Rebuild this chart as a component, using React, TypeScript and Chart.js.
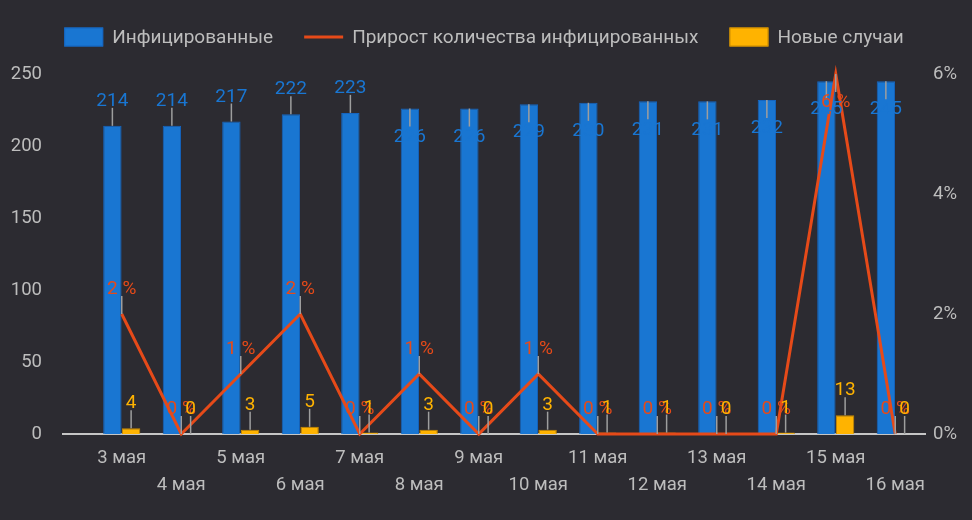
import React, { useEffect, useRef } from 'react';
import { Chart, registerables } from 'chart.js';

Chart.register(...registerables);

const categories = ['3 мая', '4 мая', '5 мая', '6 мая', '7 мая', '8 мая', '9 мая', '10 мая', '11 мая', '12 мая', '13 мая', '14 мая', '15 мая', '16 мая'];
const infected = [214, 214, 217, 222, 223, 226, 226, 229, 230, 231, 231, 232, 245, 245];
const growthPct = [2, 0, 1, 2, 0, 1, 0, 1, 0, 0, 0, 0, 6, 0];
const newCases = [4, 0, 3, 5, 1, 3, 0, 3, 1, 1, 0, 1, 13, 0];
const seriesNames = ['Инфицированные', 'Прирост количества инфицированных', 'Новые случаи'];
const leftAxisMax = 250;
const leftAxisStep = 50;
const rightAxisMax = 6;
const rightAxisStep = 2;

const BG = '#2c2b31';
const BLUE = '#1976d2';
const BLUE_BORDER = '#1565c0';
const ORANGE = '#e64a19';
const YELLOW = '#ffb300';
const YELLOW_BORDER = '#c98a00';
const TEXT = '#bdbdbd';
const STEM = '#9e9e9e';
const AXIS = '#c6c6c6';
const FONT = 'Roboto';

const W = 972;
const H = 520;

const bgPlugin = {
  id: 'bg',
  beforeDraw(chart: any) {
    const ctx = chart.ctx;
    ctx.save();
    ctx.fillStyle = BG;
    ctx.fillRect(0, 0, chart.width, chart.height);
    ctx.restore();
  },
};

const baselinePlugin = {
  id: 'baseline',
  beforeDatasetsDraw(chart: any) {
    const ctx = chart.ctx;
    const y = chart.scales.y.getPixelForValue(0);
    ctx.save();
    ctx.strokeStyle = AXIS;
    ctx.lineWidth = 2;
    ctx.beginPath();
    ctx.moveTo(62, y);
    ctx.lineTo(chart.chartArea.right + 1, y);
    ctx.stroke();
    ctx.restore();
  },
};

const legendPlugin = {
  id: 'customLegend',
  afterDraw(chart: any) {
    const ctx = chart.ctx;
    const ds = chart.data.datasets;
    ctx.save();
    ctx.font = `19px ${FONT}`;
    const boxW = 39;
    const boxH = 19;
    const textGap = 9;
    const itemGap = 31;
    const widths = ds.map((d: any) => boxW + textGap + ctx.measureText(d.label).width);
    const total = widths.reduce((a: number, b: number) => a + b, 0) + itemGap * (ds.length - 1);
    let x = (chart.width - total) / 2 - 2;
    const cy = 37;
    ds.forEach((d: any, i: number) => {
      if (d.type === 'line') {
        ctx.strokeStyle = d.borderColor;
        ctx.lineWidth = 3;
        ctx.beginPath();
        ctx.moveTo(x, cy);
        ctx.lineTo(x + boxW, cy);
        ctx.stroke();
      } else {
        ctx.fillStyle = d.backgroundColor;
        ctx.fillRect(x, cy - boxH / 2, boxW, boxH);
        ctx.strokeStyle = d.borderColor;
        ctx.lineWidth = 1;
        ctx.strokeRect(x + 0.5, cy - boxH / 2 + 0.5, boxW - 1, boxH - 1);
      }
      ctx.fillStyle = TEXT;
      ctx.textAlign = 'left';
      ctx.textBaseline = 'middle';
      ctx.fillText(d.label, x + boxW + textGap, cy + 1);
      x += widths[i] + itemGap;
    });
    ctx.restore();
  },
};

const annotationPlugin = {
  id: 'annotations',
  afterDatasetsDraw(chart: any) {
    const ctx = chart.ctx;
    const area = chart.chartArea;
    const stemLen = 18;
    ctx.save();
    ctx.font = `19px ${FONT}`;
    ctx.textAlign = 'center';
    chart.data.datasets.forEach((d: any, di: number) => {
      const meta = chart.getDatasetMeta(di);
      const isLine = d.type === 'line';
      meta.data.forEach((el: any, i: number) => {
        const v = d.data[i];
        const text = isLine ? `${v} %` : `${v}`;
        const x = el.x;
        const y = el.y;
        const textBottom = y - stemLen - 2;
        const below = textBottom - 15 < area.top + 2;
        ctx.strokeStyle = STEM;
        ctx.lineWidth = 1.5;
        ctx.beginPath();
        if (below) {
          ctx.moveTo(x, y);
          ctx.lineTo(x, y + stemLen);
        } else {
          ctx.moveTo(x, y);
          ctx.lineTo(x, y - stemLen);
        }
        ctx.stroke();
        ctx.fillStyle = d.labelColor;
        if (below) {
          ctx.textBaseline = 'top';
          ctx.fillText(text, x, y + stemLen + 1);
        } else {
          ctx.textBaseline = 'alphabetic';
          ctx.fillText(text, x, textBottom);
        }
      });
    });
    ctx.restore();
  },
};

export default function App() {
  const ref = useRef<HTMLCanvasElement>(null);

  useEffect(() => {
    document.body.style.margin = '0';
    document.body.style.background = BG;
    const canvas = ref.current;
    if (!canvas) return;
    const chart = new Chart(canvas, {
      type: 'bar',
      data: {
        labels: categories,
        datasets: [
          {
            type: 'bar',
            label: seriesNames[0],
            data: infected,
            backgroundColor: BLUE,
            borderColor: BLUE_BORDER,
            borderWidth: 1,
            yAxisID: 'y',
            order: 1,
            categoryPercentage: 0.63,
            barPercentage: 0.98,
            labelColor: BLUE,
          } as any,
          {
            type: 'line',
            label: seriesNames[1],
            data: growthPct,
            borderColor: ORANGE,
            backgroundColor: ORANGE,
            borderWidth: 3,
            pointRadius: 0,
            tension: 0,
            yAxisID: 'y1',
            order: 0,
            clip: false,
            labelColor: ORANGE,
          } as any,
          {
            type: 'bar',
            label: seriesNames[2],
            data: newCases,
            backgroundColor: YELLOW,
            borderColor: YELLOW_BORDER,
            borderWidth: 1,
            yAxisID: 'y',
            order: 2,
            categoryPercentage: 0.63,
            barPercentage: 0.98,
            labelColor: YELLOW,
          } as any,
        ],
      },
      options: {
        responsive: false,
        animation: false,
        devicePixelRatio: 1,
        layout: { padding: { top: 74, left: 0, right: 0, bottom: 0 } },
        plugins: {
          legend: { display: false },
          tooltip: { enabled: false },
        },
        scales: {
          x: {
            type: 'category',
            offset: true,
            grid: { display: false, drawTicks: false },
            border: { display: false },
            ticks: {
              autoSkip: false,
              maxRotation: 0,
              minRotation: 0,
              color: TEXT,
              padding: 11,
              font: { family: FONT, size: 18.5, lineHeight: 1.45 },
              callback: (_v: any, i: number) => (i % 2 === 0 ? [categories[i]] : ['', categories[i]]),
            },
            afterFit: (s: any) => {
              s.height = 86;
            },
          },
          y: {
            type: 'linear',
            position: 'left',
            min: 0,
            max: leftAxisMax,
            grid: { display: false, drawTicks: false },
            border: { display: false },
            ticks: {
              stepSize: leftAxisStep,
              color: TEXT,
              padding: 50,
              font: { family: FONT, size: 18.5 },
            },
            afterFit: (s: any) => {
              s.width = 92;
            },
          },
          y1: {
            type: 'linear',
            position: 'right',
            min: 0,
            max: rightAxisMax,
            grid: { display: false, drawTicks: false },
            border: { display: false },
            ticks: {
              stepSize: rightAxisStep,
              color: TEXT,
              padding: 8,
              font: { family: FONT, size: 18.5 },
              callback: (v: any) => `${v}%`,
            },
            afterFit: (s: any) => {
              s.width = 47;
            },
          },
        },
      } as any,
      plugins: [bgPlugin, baselinePlugin, annotationPlugin, legendPlugin],
    });
    return () => chart.destroy();
  }, []);

  return (
    <div style={{ width: W, height: H, background: BG }}>
      <canvas ref={ref} width={W} height={H} style={{ display: 'block' }} />
    </div>
  );
}
